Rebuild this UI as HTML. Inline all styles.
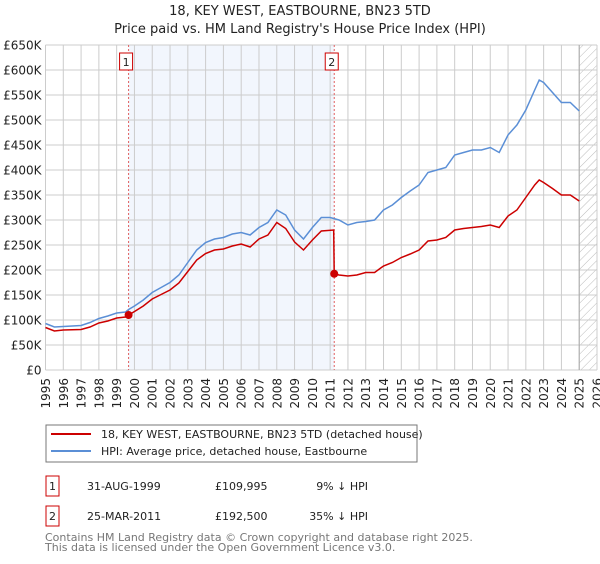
<!DOCTYPE html>
<html><head><meta charset="utf-8"><style>
body{margin:0;background:#fff;width:600px;height:560px;overflow:hidden;font-family:"DejaVu Sans","Liberation Sans",sans-serif;}
svg text{font-family:"DejaVu Sans","Liberation Sans",sans-serif;}
</style></head><body>
<svg id="c" width="600" height="560" xmlns="http://www.w3.org/2000/svg">
<text x="300" y="15" text-anchor="middle" font-size="13" fill="#222">18, KEY WEST, EASTBOURNE, BN23 5TD</text>
<text x="300" y="33" text-anchor="middle" font-size="13" fill="#222">Price paid vs. HM Land Registry's House Price Index (HPI)</text>
<g id="plot"></g>
<g>
<rect x="46" y="425" width="371" height="37" fill="#fff" stroke="#777"/>
<line x1="51" y1="434" x2="91" y2="434" stroke="#cc0000" stroke-width="2"/>
<text x="101" y="438" font-size="11" fill="#222">18, KEY WEST, EASTBOURNE, BN23 5TD (detached house)</text>
<line x1="51" y1="451" x2="91" y2="451" stroke="#5b8fd6" stroke-width="2"/>
<text x="101" y="455" font-size="11" fill="#222">HPI: Average price, detached house, Eastbourne</text>
</g>
<g font-size="11" fill="#222">
<rect x="46" y="476" width="13" height="20" fill="#fff" stroke="#cc0000"/>
<text x="52.5" y="490" text-anchor="middle">1</text>
<text x="87" y="490">31-AUG-1999</text>
<text x="215" y="490">£109,995</text>
<text x="368" y="490" text-anchor="end">9% ↓ HPI</text>
<rect x="46" y="506" width="13" height="20" fill="#fff" stroke="#cc0000"/>
<text x="52.5" y="520" text-anchor="middle">2</text>
<text x="87" y="520">25-MAR-2011</text>
<text x="215" y="520">£192,500</text>
<text x="368" y="520" text-anchor="end">35% ↓ HPI</text>
</g>
<text x="45" y="541" font-size="11" fill="#777">Contains HM Land Registry data © Crown copyright and database right 2025.</text>
<text x="45" y="551" font-size="11" fill="#777">This data is licensed under the Open Government Licence v3.0.</text>
</svg>
<script>
const hpiYears=[1995,1995.5,1996,1997,1997.5,1998,1998.5,1999,1999.5,1999.67,2000,2000.5,2001,2001.5,2002,2002.5,2003,2003.5,2004,2004.5,2005,2005.5,2006,2006.5,2007,2007.5,2008,2008.5,2009,2009.5,2010,2010.5,2011,2011.5,2012,2012.5,2013,2013.5,2014,2014.5,2015,2015.5,2016,2016.5,2017,2017.5,2018,2018.5,2019,2019.5,2020,2020.5,2021,2021.5,2022,2022.5,2022.75,2023,2023.5,2024,2024.5,2025];
const hpiValues=[93,86,87,89,95,103,108,114,116,121,128,140,155,165,175,190,215,240,255,262,265,272,275,270,285,295,320,310,280,262,285,305,305,300,290,295,297,300,320,330,345,358,370,395,400,405,430,435,440,440,445,435,470,490,520,560,580,575,555,535,535,518];
const priceYears=[1995,1995.5,1996,1997,1997.5,1998,1998.5,1999,1999.5,1999.67,2000,2000.5,2001,2001.5,2002,2002.5,2003,2003.5,2004,2004.5,2005,2005.5,2006,2006.5,2007,2007.5,2008,2008.5,2009,2009.5,2010,2010.5,2011.2,2011.23,2011.5,2012,2012.5,2013,2013.5,2014,2014.5,2015,2015.5,2016,2016.5,2017,2017.5,2018,2018.5,2019,2019.5,2020,2020.5,2021,2021.5,2022,2022.5,2022.75,2023,2023.5,2024,2024.5,2025];
const priceValues=[85,78,80,81,86,94,98,104,106,110,117,128,142,151,160,174,197,220,233,240,242,248,252,246,262,270,295,283,256,240,260,278,280,192.5,190,188,190,195,195,208,215,225,232,240,258,260,265,280,283,285,287,290,285,308,320,345,370,380,375,363,350,350,338];
const saleYears=[1999.67,2011.23];
const saleValues=[109.995,192.5];
const saleLabels=["1","2"];
const yTicks=[0,50,100,150,200,250,300,350,400,450,500,550,600,650];
const yTickLabels=["£0","£50K","£100K","£150K","£200K","£250K","£300K","£350K","£400K","£450K","£500K","£550K","£600K","£650K"];
const xTicks=[1995,1996,1997,1998,1999,2000,2001,2002,2003,2004,2005,2006,2007,2008,2009,2010,2011,2012,2013,2014,2015,2016,2017,2018,2019,2020,2021,2022,2023,2024,2025,2026];

const L=45.5,R=597,T=45,B=370;
const x=v=>L+(v-1995)/(2026-1995)*(R-L);
const y=v=>B-v/650*(B-T);
const NS="http://www.w3.org/2000/svg";
const g=document.getElementById('plot');
function mk(tag,attrs,parent){const e=document.createElementNS(NS,tag);for(const k in attrs)e.setAttribute(k,attrs[k]);(parent||g).appendChild(e);return e;}
let e;
e=mk('rect',{x:x(saleYears[0]),y:T,width:x(saleYears[1])-x(saleYears[0]),height:B-T,fill:'#eef3fc',opacity:0.75});


const defs=mk('defs',{});
const pat=mk('pattern',{id:'hatch',patternUnits:'userSpaceOnUse',width:6,height:6,patternTransform:'rotate(45)'},defs);
mk('line',{x1:0,y1:0,x2:0,y2:6,stroke:'#bbb','stroke-width':1},pat);
e=mk('rect',{x:x(2025),y:T,width:R-x(2025),height:B-T,fill:'url(#hatch)'});


xTicks.forEach(t=>{
  e=mk('line',{x1:x(t),y1:T,x2:x(t),y2:B,stroke:'#ccc','stroke-width':1});
  
  
  e=mk('text',{x:0,y:0,'font-size':12,fill:'#222','text-anchor':'end',transform:`translate(${x(t)+4.5},${B+8}) rotate(-90)`});
  e.textContent=t;
  
  
});
yTicks.forEach((t,i)=>{
  e=mk('line',{x1:L,y1:y(t),x2:R,y2:y(t),stroke:'#ccc','stroke-width':1});
  
  
  e=mk('text',{x:L-4,y:y(t)+4.5,'font-size':12,fill:'#222','text-anchor':'end'});
  e.textContent=yTickLabels[i];
  
  
});
e=mk('line',{x1:x(2025),y1:T,x2:x(2025),y2:B,stroke:'#aaa','stroke-width':1});


saleYears.forEach((s,i)=>{
  e=mk('line',{x1:x(s),y1:T,x2:x(s),y2:B,stroke:'#e06060','stroke-width':1,'stroke-dasharray':'2,2'});
  
  
  const bx=x(s)-9;
  e=mk('rect',{x:bx,y:53,width:13,height:17,fill:'#fff',stroke:'#cc0000'});
  
  
  e=mk('text',{x:bx+6.5,y:66,'font-size':11,fill:'#222','text-anchor':'middle'});
  e.textContent=saleLabels[i];
  
  
});
function path(xs,vs){return xs.map((a,i)=>(i?'L':'M')+x(a).toFixed(1)+','+y(vs[i]).toFixed(1)).join(' ');}
e=mk('path',{d:path(hpiYears,hpiValues),fill:'none',stroke:'#5b8fd6','stroke-width':1.5});


e=mk('path',{d:path(priceYears,priceValues),fill:'none',stroke:'#cc0000','stroke-width':1.5});


saleYears.forEach((s,i)=>{
  e=mk('circle',{cx:x(s),cy:y(saleValues[i]),r:4,fill:'#cc0000'});
  
  
});
</script>
</body></html>
